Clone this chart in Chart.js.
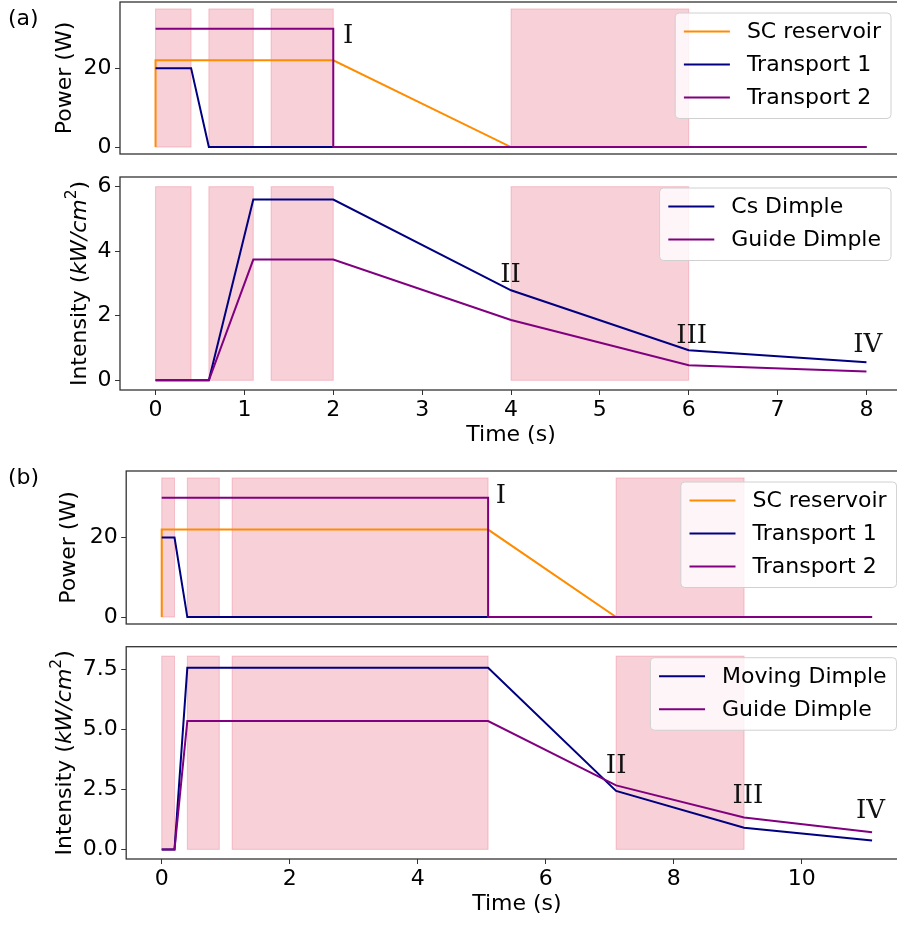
<!DOCTYPE html>
<html><head><meta charset="utf-8">
<script src="https://cdn.jsdelivr.net/npm/chart.js@4.4.1/dist/chart.umd.min.js"></script>
<style>
html,body{margin:0;padding:0;background:#fff;overflow:hidden;width:897px;height:925px;}
#wrap{position:relative;width:897px;height:925px;overflow:hidden;background:#fff;}
canvas{position:absolute;left:0;}
</style></head><body><div id="wrap">
<canvas id="c1" width="912" height="160" style="top:0px;width:912px;height:160px"></canvas>
<canvas id="c2" width="912" height="290" style="top:160px;width:912px;height:290px"></canvas>
<canvas id="c3" width="912" height="180" style="top:450px;width:912px;height:180px"></canvas>
<canvas id="c4" width="912" height="295" style="top:630px;width:912px;height:295px"></canvas>
</div>
<script>
// ---------- Panel (a) data ----------
const tA_sc = [0, 0, 2, 4, 8];
const pA_sc = [0, 22, 22, 0, 0];
const tA_t1 = [0, 0.4, 0.6, 8];
const pA_t1 = [20, 20, 0, 0];
const tA_t2 = [0, 2, 2, 8];
const pA_t2 = [30, 30, 0, 0];
const tA_int = [0, 0.6, 1.1, 2, 4, 6, 8];
const iA_cs = [0, 0, 5.6, 5.6, 2.79, 0.93, 0.56];
const iA_guide = [0, 0, 3.74, 3.74, 1.87, 0.47, 0.27];
const spansA = [[0, 0.4], [0.6, 1.1], [1.3, 2], [4, 6]];
const xTicksA = [0, 1, 2, 3, 4, 5, 6, 7, 8];
const yTicksA_pow = [0, 20];
const yTicksA_int = [0, 2, 4, 6];
const stageLabels = ['I', 'II', 'III', 'IV'];
const stageA_pow = [[2.11, 26.4]];
const stageA_int = [[3.88, 3.06], [5.86, 1.17], [7.85, 0.89]];

// ---------- Panel (b) data ----------
const tB_sc = [0, 0, 5.1, 7.1, 11.1];
const pB_sc = [0, 22, 22, 0, 0];
const tB_t1 = [0, 0.2, 0.4, 11.1];
const pB_t1 = [20, 20, 0, 0];
const tB_t2 = [0, 5.1, 5.1, 11.1];
const pB_t2 = [30, 30, 0, 0];
const tB_int = [0, 0.2, 0.4, 5.1, 7.1, 9.1, 11.1];
const iB_moving = [0, 0, 7.55, 7.55, 2.43, 0.90, 0.37];
const iB_guide = [0, 0, 5.34, 5.34, 2.66, 1.33, 0.71];
const spansB = [[0, 0.2], [0.4, 0.9], [1.1, 5.1], [7.1, 9.1]];
const xTicksB = [0, 2, 4, 6, 8, 10];
const yTicksB_pow = [0, 20];
const yTicksB_int = [0, 2.5, 5, 7.5];
const stageB_pow = [[5.22, 28.8]];
const stageB_int = [[6.94, 3.17], [8.92, 1.94], [10.85, 1.32]];

const spanTopPow = 35, spanTopIntA = 6, spanTopIntB = 8.04;

const C_ORANGE = '#ff8c00', C_NAVY = '#000080', C_PURPLE = '#800080';
const FONT = 'DejaVu Sans';

Chart.defaults.font.family = FONT;
Chart.defaults.font.size = 22;
Chart.defaults.color = '#000';

function pts(xs, ys) { return xs.map((x, i) => ({x: x, y: ys[i]})); }
function ds(label, xs, ys, color, order) {
  return {label, data: pts(xs, ys), borderColor: color, backgroundColor: color,
    borderWidth: 2, pointRadius: 0, tension: 0, fill: false, order: order};
}

function rrect(ctx, x, y, w, h, r) {
  ctx.beginPath();
  ctx.moveTo(x + r, y);
  ctx.lineTo(x + w - r, y); ctx.arcTo(x + w, y, x + w, y + r, r);
  ctx.lineTo(x + w, y + h - r); ctx.arcTo(x + w, y + h, x + w - r, y + h, r);
  ctx.lineTo(x + r, y + h); ctx.arcTo(x, y + h, x, y + h - r, r);
  ctx.lineTo(x, y + r); ctx.arcTo(x, y, x + r, y, r);
  ctx.closePath();
}

const panelPlugin = {
  id: 'panel',
  beforeDatasetsDraw(chart, args, o) {
    const {ctx} = chart; const xs = chart.scales.x, ys = chart.scales.y;
    ctx.save();
    (o.spans || []).forEach(s => {
      const x0 = xs.getPixelForValue(s[0]), x1 = xs.getPixelForValue(s[1]);
      const y0 = ys.getPixelForValue(0), y1 = ys.getPixelForValue(o.spanTop);
      ctx.fillStyle = 'rgba(220,20,60,0.2)';
      ctx.fillRect(x0, y1, x1 - x0, y0 - y1);
      ctx.strokeStyle = 'rgba(220,20,60,0.2)';
      ctx.lineWidth = 1;
      ctx.strokeRect(x0, y1, x1 - x0, y0 - y1);
    });
    ctx.restore();
  },
  afterDatasetsDraw(chart, args, o) {
    const {ctx} = chart; const xs = chart.scales.x, ys = chart.scales.y;
    ctx.save();
    ctx.font = '26px "DejaVu Serif"';
    ctx.fillStyle = '#111';
    ctx.textAlign = 'left'; ctx.textBaseline = 'alphabetic';
    (o.stages || []).forEach((p, i) => {
      ctx.fillText(o.stageText[i], xs.getPixelForValue(p[0]), ys.getPixelForValue(p[1]));
    });
    ctx.restore();
  },
  afterDraw(chart, args, o) {
    const {ctx, chartArea: ca} = chart;
    ctx.save();
    // legend
    const items = chart.data.datasets;
    ctx.font = '22px ' + FONT;
    let tw = 0; items.forEach(d => { tw = Math.max(tw, ctx.measureText(d.label).width); });
    const w = 8.7 + 46 + 17 + tw + 10;
    const h = 18.5 + (items.length - 1) * 33 + 21;
    const right = ca.right - 11, top = ca.top + 11, left = right - w;
    rrect(ctx, left, top, w, h, 4);
    ctx.fillStyle = 'rgba(255,255,255,0.8)'; ctx.fill();
    ctx.strokeStyle = '#d0d0d0'; ctx.lineWidth = 1; ctx.stroke();
    items.forEach((d, i) => {
      const y = top + 18.5 + i * 33;
      ctx.strokeStyle = d.borderColor; ctx.lineWidth = 2;
      ctx.beginPath(); ctx.moveTo(left + 8.7, y); ctx.lineTo(left + 54.7, y); ctx.stroke();
      ctx.fillStyle = '#000'; ctx.textAlign = 'left'; ctx.textBaseline = 'middle';
      ctx.fillText(d.label, left + 71.7, y + 1);
    });
    // axes frame
    ctx.strokeStyle = '#333'; ctx.lineWidth = 1.3;
    ctx.strokeRect(ca.left, ca.top, ca.right - ca.left, ca.bottom - ca.top);
    // custom y title with math
    if (o.mathTitleX) {
      const cy = (ca.top + ca.bottom) / 2;
      const parts = [
        {t: 'Intensity (', f: '22px ' + FONT, dy: 0},
        {t: 'kW/cm', f: 'italic 22px ' + FONT, dy: 0},
        {t: '2', f: '15.5px ' + FONT, dy: -8},
        {t: ')', f: '22px ' + FONT, dy: 0}
      ];
      let total = 0;
      parts.forEach(p => { ctx.font = p.f; p.w = ctx.measureText(p.t).width; total += p.w; });
      ctx.translate(o.mathTitleX, cy); ctx.rotate(-Math.PI / 2);
      ctx.fillStyle = '#000'; ctx.textBaseline = 'middle'; ctx.textAlign = 'left';
      let x = -total / 2;
      parts.forEach(p => { ctx.font = p.f; ctx.fillText(p.t, x, p.dy); x += p.w; });
      ctx.setTransform(1, 0, 0, 1, 0, 0);
    }
    if (o.panelLabel) {
      ctx.font = '22px ' + FONT; ctx.fillStyle = '#000';
      ctx.textAlign = 'left'; ctx.textBaseline = 'alphabetic';
      ctx.fillText(o.panelLabel[0], o.panelLabel[1], o.panelLabel[2]);
    }
    ctx.restore();
  }
};

function makeChart(id, cfg) {
  const tickArr = (arr) => (scale) => { scale.ticks = arr.map(v => ({value: v})); };
  const xScale = {
    type: 'linear', min: cfg.xmin, max: cfg.xmax,
    display: cfg.showX,
    afterBuildTicks: tickArr(cfg.xTicks),
    afterFit: (s) => { s.height = cfg.xHeight; s.paddingLeft = 0; s.paddingRight = 0; },
    ticks: {autoSkip: false, maxRotation: 0, padding: 2, color: '#000', font: {size: 22},
      callback: (v) => String(v)},
    grid: {drawOnChartArea: false, drawTicks: true, tickLength: 5, color: '#333', lineWidth: 1},
    border: {display: false},
    title: {display: cfg.showX, text: 'Time (s)', color: '#000', font: {size: 22},
      padding: {top: 0, bottom: cfg.xTitlePad}}
  };
  const yScale = {
    type: 'linear', min: cfg.ymin, max: cfg.ymax,
    afterBuildTicks: tickArr(cfg.yTicks),
    afterFit: (s) => { s.width = cfg.yWidth; s.paddingTop = 0; s.paddingBottom = 0; },
    ticks: {autoSkip: false, padding: 3.5, color: '#000', font: {size: 22},
      callback: cfg.yFmt},
    grid: {drawOnChartArea: false, drawTicks: true, tickLength: 5, color: '#333', lineWidth: 1},
    border: {display: false},
    title: {display: !!cfg.yTitle, text: cfg.yTitle || '', color: '#000', font: {size: 22},
      padding: {top: cfg.yTitlePad || 0, bottom: 0}}
  };
  return new Chart(document.getElementById(id), {
    type: 'line',
    data: {datasets: cfg.datasets},
    options: {
      responsive: false, animation: false, devicePixelRatio: 1,
      layout: {padding: cfg.pad},
      scales: {x: xScale, y: yScale},
      plugins: {
        legend: {display: false}, tooltip: {enabled: false},
        panel: cfg.panel
      }
    },
    plugins: [panelPlugin]
  });
}

const fmtInt = (v) => String(v);
const fmt1 = (v) => v.toFixed(1);

// (a) power
makeChart('c1', {
  xmin: -0.4, xmax: 8.4, xTicks: xTicksA, showX: false, xHeight: 0,
  ymin: -1.75, ymax: 36.75, yTicks: yTicksA_pow, yFmt: fmtInt, yWidth: 120,
  yTitle: 'Power (W)', yTitlePad: 51.8,
  pad: {top: 2, left: 0, right: 10, bottom: 6},
  datasets: [ds('SC reservoir', tA_sc, pA_sc, C_ORANGE, 3), ds('Transport 1', tA_t1, pA_t1, C_NAVY, 2), ds('Transport 2', tA_t2, pA_t2, C_PURPLE, 1)],
  panel: {spans: spansA, spanTop: spanTopPow, stages: stageA_pow, stageText: stageLabels.slice(0, 1), panelLabel: ['(a)', 8, 25]}
});
// (a) intensity
makeChart('c2', {
  xmin: -0.4, xmax: 8.4, xTicks: xTicksA, showX: true, xHeight: 60, xTitlePad: 1.8,
  ymin: -0.3, ymax: 6.3, yTicks: yTicksA_int, yFmt: fmtInt, yWidth: 120,
  yTitle: null,
  pad: {top: 17, left: 0, right: 10, bottom: 0},
  datasets: [ds('Cs Dimple', tA_int, iA_cs, C_NAVY, 2), ds('Guide Dimple', tA_int, iA_guide, C_PURPLE, 1)],
  panel: {spans: spansA, spanTop: spanTopIntA, stages: stageA_int, stageText: stageLabels.slice(1), mathTitleX: 80}
});
// (b) power
makeChart('c3', {
  xmin: -0.555, xmax: 11.655, xTicks: xTicksB, showX: false, xHeight: 0,
  ymin: -1.75, ymax: 36.75, yTicks: yTicksB_pow, yFmt: fmtInt, yWidth: 126.2,
  yTitle: 'Power (W)', yTitlePad: 55.8,
  pad: {top: 21, left: 0, right: 4.4, bottom: 6},
  datasets: [ds('SC reservoir', tB_sc, pB_sc, C_ORANGE, 3), ds('Transport 1', tB_t1, pB_t1, C_NAVY, 2), ds('Transport 2', tB_t2, pB_t2, C_PURPLE, 1)],
  panel: {spans: spansB, spanTop: spanTopPow, stages: stageB_pow, stageText: stageLabels.slice(0, 1), panelLabel: ['(b)', 8, 34]}
});
// (b) intensity
makeChart('c4', {
  xmin: -0.555, xmax: 11.655, xTicks: xTicksB, showX: true, xHeight: 66, xTitlePad: 7.8,
  ymin: -0.4, ymax: 8.43, yTicks: yTicksB_int, yFmt: fmt1, yWidth: 126.2,
  yTitle: null,
  pad: {top: 16.7, left: 0, right: 4.4, bottom: 0},
  datasets: [ds('Moving Dimple', tB_int, iB_moving, C_NAVY, 2), ds('Guide Dimple', tB_int, iB_guide, C_PURPLE, 1)],
  panel: {spans: spansB, spanTop: spanTopIntB, stages: stageB_int, stageText: stageLabels.slice(1), mathTitleX: 65}
});
</script>
</body></html>
